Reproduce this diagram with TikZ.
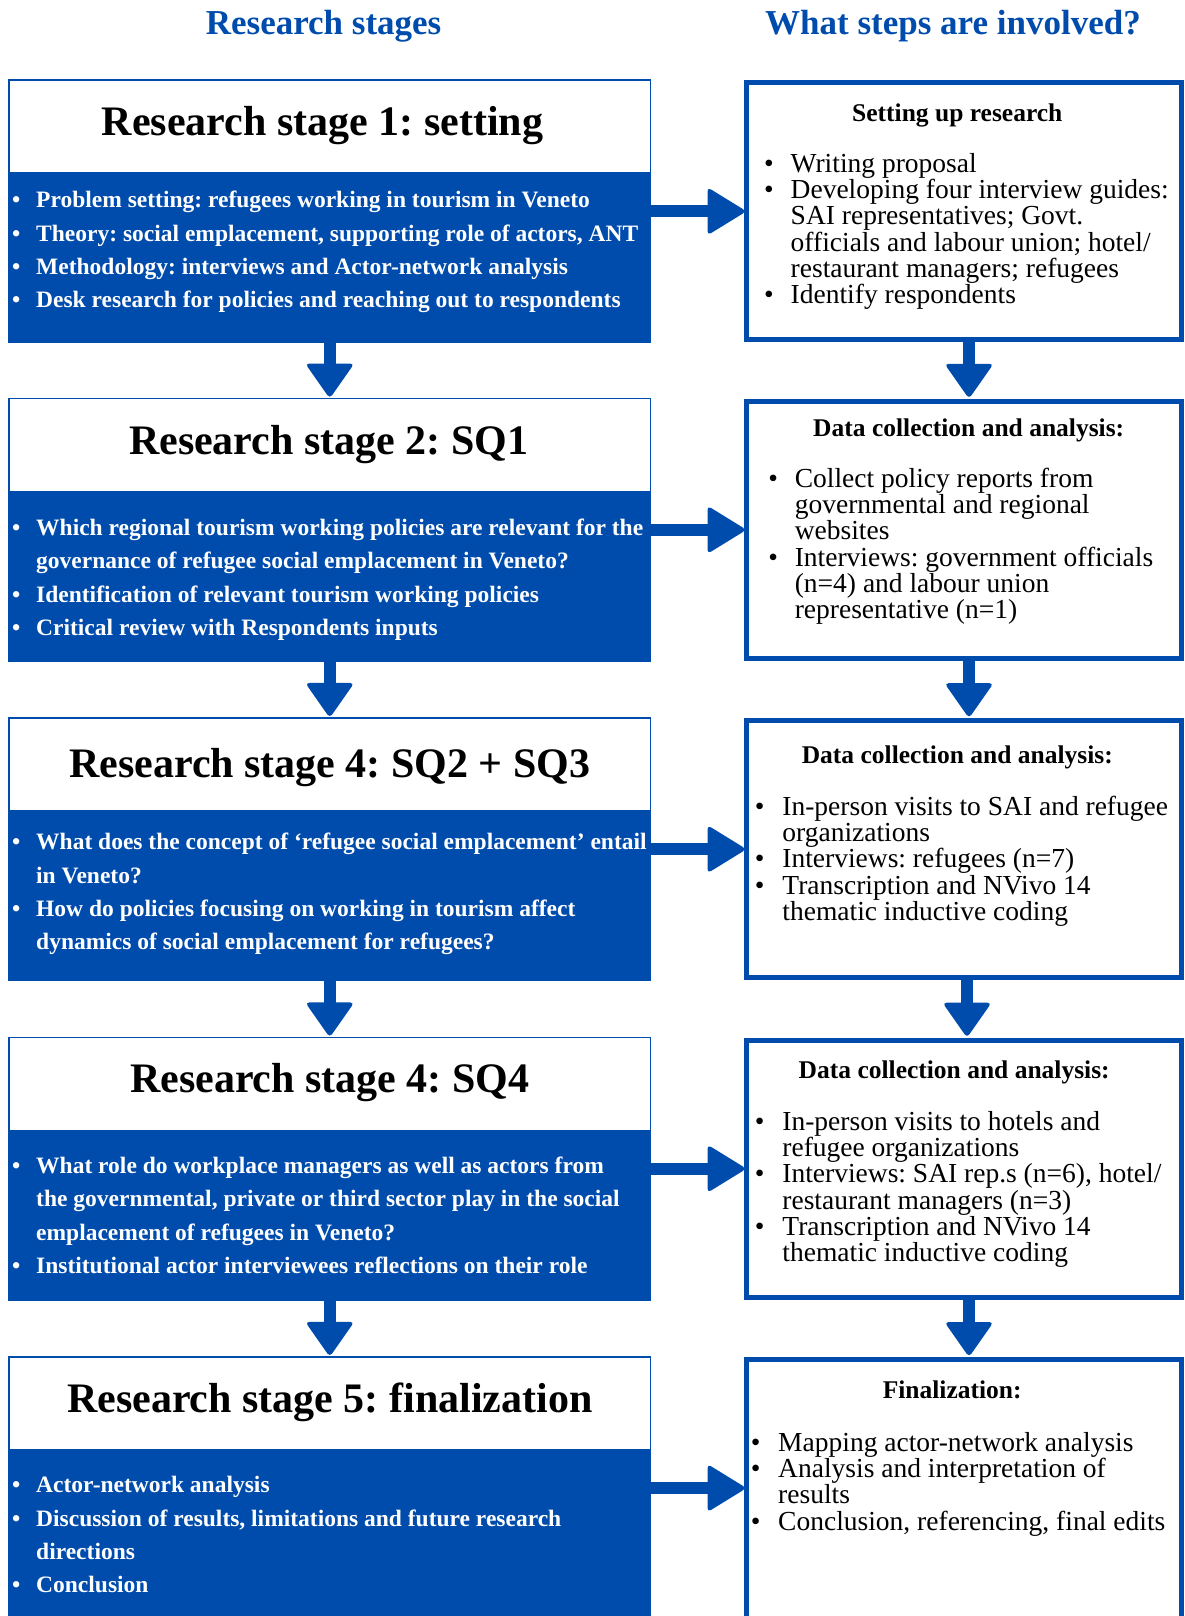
\documentclass[tikz,border=0pt]{standalone}
\usepackage{fontspec}
\setmainfont{Liberation Serif}
\usetikzlibrary{calc}
\frenchspacing
\definecolor{bluec}{RGB}{0,76,173}
\newcommand{\bw}{24pt}
\newcommand{\bl}[1]{\hbox{\makebox[\bw][l]{\textbullet}#1}}
\newcommand{\cl}[1]{\hbox{\hspace*{\bw}#1}}
\newcommand{\vlines}[2]{\vtop{\baselineskip=#1\relax\lineskiplimit=-1000pt\lineskip=0pt\relax #2}}
\newcommand{\harrow}[2]{%
  \fill[bluec] let \p1=(#1), \p2=(#2) in (\x1,\y2+6pt) rectangle (\x2-38pt,\y2-6pt);
  \fill[bluec, rounded corners=4pt] let \p2=(#2) in (\x2-39pt,\y2+24pt) -- (\x2,\y2) -- (\x2-39pt,\y2-24pt) -- cycle;}
\newcommand{\varrow}[2]{%
  \fill[bluec] let \p1=(#1), \p2=(#2) in (\x2-6pt,\y1) rectangle (\x2+6pt,\y2+34pt);
  \fill[bluec, rounded corners=4pt] let \p2=(#2) in (\x2-24.5pt,\y2+35pt) -- (\x2,\y2) -- (\x2+24.5pt,\y2+35pt) -- cycle;}
\tikzset{
  whitebox/.style={draw=bluec, line width=1.5pt, fill=white, anchor=north west, inner sep=0pt, outer sep=0pt, minimum width=641.6pt, minimum height=93pt},
  bluebox/.style={fill=bluec, anchor=north west, inner sep=0pt, outer sep=0pt, minimum width=643.1pt, minimum height=169.5pt},
  rightbox/.style={draw=bluec, line width=5pt, fill=white, anchor=north west, inner sep=0pt, outer sep=0pt, minimum width=435pt, minimum height=257pt},
  toptitle/.style={anchor=base, inner sep=0pt, text=bluec, font=\fontsize{35}{40}\selectfont\bfseries},
  stagetitle/.style={anchor=base, inner sep=0pt, font=\fontsize{42}{48}\selectfont\bfseries},
  bluetext/.style={anchor=base west, inner sep=0pt, text=white, font=\fontsize{23.5}{33.3}\selectfont\bfseries},
  righthead/.style={anchor=base, inner sep=0pt, font=\fontsize{25.5}{30}\selectfont\bfseries},
  righttext/.style={anchor=base west, inner sep=0pt, font=\fontsize{27.5}{26.2}\selectfont},
}
\begin{document}
\begin{tikzpicture}[x=1pt,y=-1pt]
\useasboundingbox (0,0) rectangle (1184,1616);
\fill[white] (0,0) rectangle (1184,1616);

% column titles
\node[toptitle] (h1) at (323.6,35) {Research stages};
\node[toptitle] (h2) at (953,35) {What steps are involved?};

% boxes
\node[whitebox] (w1) at (8.95,80.05) {};
\node[bluebox] (b1) at (8.2,173.8) {};
\node[rightbox] (r1) at (746.5,82.8) {};

\node[whitebox] (w2) at (8.95,398.55) {};
\node[bluebox] (b2) at (8.2,492.3) {};
\node[rightbox] (r2) at (746.5,401.3) {};

\node[whitebox] (w3) at (8.95,717.95) {};
\node[bluebox] (b3) at (8.2,811.7) {};
\node[rightbox] (r3) at (746.5,720.7) {};

\node[whitebox] (w4) at (8.95,1037.45) {};
\node[bluebox] (b4) at (8.2,1131.2) {};
\node[rightbox] (r4) at (746.5,1040.2) {};

\node[whitebox] (w5) at (8.95,1356.85) {};
\node[bluebox, minimum height=180pt] (b5) at (8.2,1450.6) {};
\node[rightbox, minimum height=280pt] (r5) at (746.5,1359.6) {};

% horizontal arrows
\harrow{b1.east}{$(r1.north west)+(0,128.5)$}
\harrow{b2.east}{$(r2.north west)+(0,128.5)$}
\harrow{b3.east}{$(r3.north west)+(0,128.5)$}
\harrow{b4.east}{$(r4.north west)+(0,128.5)$}
\harrow{b5.east}{$(r5.north west)+(0,128.5)$}

% vertical arrows, left
\varrow{b1.south}{w2.north}
\varrow{b2.south}{w3.north}
\varrow{b3.south}{w4.north}
\varrow{b4.south}{w5.north}
% vertical arrows, right
\varrow{$(r1.south)+(5,0)$}{$(r2.north)+(5,-2.5)$}
\varrow{$(r2.south)+(5,0)$}{$(r3.north)+(5,-2.5)$}
\varrow{$(r3.south)+(3,0)$}{$(r4.north)+(3,-2.5)$}
\varrow{$(r4.south)+(5,0)$}{$(r5.north)+(5,-2.5)$}

% stage titles
\node[stagetitle] (t1) at (322.5,135.5) {Research stage 1: setting};
\node[stagetitle] (t2) at (328.7,454) {Research stage 2: SQ1};
\node[stagetitle] (t3) at (329.8,777.5) {Research stage 4: SQ2 + SQ3};
\node[stagetitle] (t4) at (329.8,1092.9) {Research stage 4: SQ4};
\node[stagetitle] (t5) at (329.8,1412.3) {Research stage 5: finalization};

% blue texts
\node[bluetext] (s1) at (12,207.8) {\vlines{33.3pt}{%
  \bl{Problem setting: refugees working in tourism in Veneto}
  \bl{Theory: social emplacement, supporting role of actors, ANT}
  \bl{Methodology: interviews and Actor-network analysis}
  \bl{Desk research for policies and reaching out to respondents}}};
\node[bluetext] (s2) at (12,535.6) {\vlines{33.3pt}{%
  \bl{Which regional tourism working policies are relevant for the}
  \cl{governance of refugee social emplacement in Veneto?}
  \bl{Identification of relevant tourism working policies}
  \bl{Critical review with Respondents inputs}}};
\node[bluetext] (s3) at (12,849.9) {\vlines{33.3pt}{%
  \bl{What does the concept of ‘refugee social emplacement’ entail}
  \cl{in Veneto?}
  \bl{How do policies focusing on working in tourism affect}
  \cl{dynamics of social emplacement for refugees?}}};
\node[bluetext] (s4) at (12,1173.5) {\vlines{33.3pt}{%
  \bl{What role do workplace managers as well as actors from}
  \cl{the governmental, private or third sector play in the social}
  \cl{emplacement of refugees in Veneto?}
  \bl{Institutional actor interviewees reflections on their role}}};
\node[bluetext] (s5) at (12,1492.9) {\vlines{33.3pt}{%
  \bl{Actor-network analysis}
  \bl{Discussion of results, limitations and future research}
  \cl{directions}
  \bl{Conclusion}}};

% right headings
\node[righthead] (g1) at (957.3,121.8) {Setting up research};
\node[righthead] (g2) at (968.7,436) {Data collection and analysis:};
\node[righthead] (g3) at (957.3,763.7) {Data collection and analysis:};
\node[righthead] (g4) at (954.2,1078.1) {Data collection and analysis:};
\node[righthead] (g5) at (952.2,1398.6) {Finalization:};

% right texts
\node[righttext] (p1) at (764,172.5) {\renewcommand{\bw}{26.5pt}\vlines{26.2pt}{%
  \bl{Writing proposal}
  \bl{Developing four interview guides:}
  \cl{SAI representatives; Govt.}
  \cl{officials and labour union; hotel/}
  \cl{restaurant managers; refugees}
  \bl{Identify respondents}}};
\node[righttext] (p2) at (768.1,487.5) {\renewcommand{\bw}{26.5pt}\vlines{26.2pt}{%
  \bl{Collect policy reports from}
  \cl{governmental and regional}
  \cl{websites}
  \bl{Interviews: government officials}
  \cl{(n=4) and labour union}
  \cl{representative (n=1)}}};
\node[righttext] (p3) at (754.7,815.5) {\renewcommand{\bw}{27.5pt}\vlines{26.2pt}{%
  \bl{In-person visits to SAI and refugee}
  \cl{organizations}
  \bl{Interviews: refugees (n=7)}
  \bl{Transcription and NVivo 14}
  \cl{thematic inductive coding}}};
\node[righttext] (p4) at (754.7,1130.5) {\renewcommand{\bw}{27.5pt}\vlines{26.2pt}{%
  \bl{In-person visits to hotels and}
  \cl{refugee organizations}
  \bl{Interviews: SAI rep.s (n=6), hotel/}
  \cl{restaurant managers (n=3)}
  \bl{Transcription and NVivo 14}
  \cl{thematic inductive coding}}};
\node[righttext] (p5) at (750.6,1451.5) {\renewcommand{\bw}{27.4pt}\vlines{26.2pt}{%
  \bl{Mapping actor-network analysis}
  \bl{Analysis and interpretation of}
  \cl{results}
  \bl{Conclusion, referencing, final edits}}};
\end{tikzpicture}
\end{document}
